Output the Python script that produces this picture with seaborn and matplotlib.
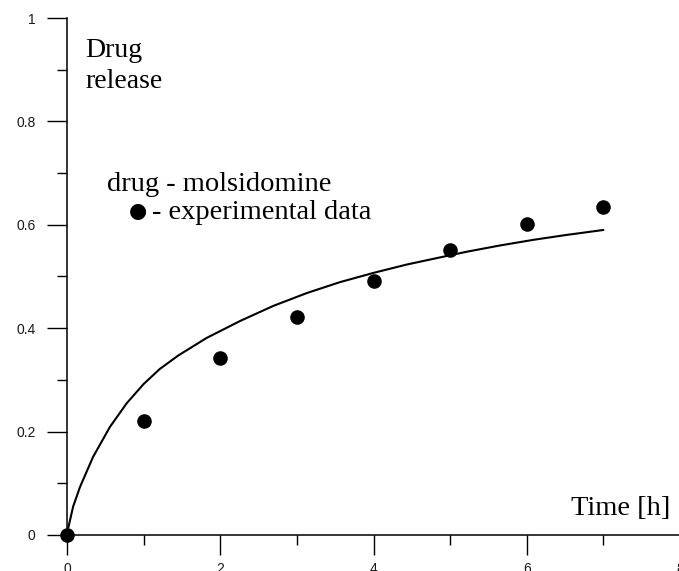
import matplotlib
matplotlib.use("Agg")
import matplotlib.pyplot as plt
import seaborn as sns
import pandas as pd
from matplotlib.ticker import MultipleLocator

# experimental data
time_h = [0, 1, 2, 3, 4, 5, 6, 7]
release = [0.0, 0.22, 0.342, 0.421, 0.492, 0.551, 0.601, 0.635]

# model curve
curve_t = [0, 0.02, 0.08, 0.17, 0.34, 0.56, 0.78, 1.0, 1.21, 1.45, 1.82, 2.26,
           2.69, 3.13, 3.56, 4.0, 4.43, 4.87, 5.22, 5.65, 6.09, 6.5, 7.0]
curve_y = [0.0, 0.016, 0.055, 0.093, 0.151, 0.209, 0.255, 0.292, 0.321, 0.347,
           0.381, 0.414, 0.443, 0.468, 0.489, 0.507, 0.523, 0.537, 0.548, 0.560,
           0.571, 0.580, 0.590]

xticks = [0, 2, 4, 6, 8]
yticks = [0, 0.2, 0.4, 0.6, 0.8, 1]
ytick_labels = ["0", "0.2", "0.4", "0.6", "0.8", "1"]

sns.set_style("ticks")
plt.rcParams["font.family"] = ["Liberation Sans", "DejaVu Sans"]
plt.rcParams["text.color"] = "black"

fig = plt.figure(figsize=(6.79, 5.71), dpi=100)
ax = fig.add_axes([67 / 679, 1 - 535 / 571, 613 / 679, 517 / 571])

df_pts = pd.DataFrame({"t": time_h, "r": release})
df_cur = pd.DataFrame({"t": curve_t, "r": curve_y})

sns.lineplot(data=df_cur, x="t", y="r", ax=ax, color="black", linewidth=1.5,
             sort=False, clip_on=False)
sns.scatterplot(data=df_pts, x="t", y="r", ax=ax, color="black", s=110,
                edgecolor="black", linewidth=0, clip_on=False, zorder=5)

ax.set_xlim(0, 8)
ax.set_ylim(0, 1)
ax.set_xticks(xticks)
ax.set_xticklabels([str(v) for v in xticks])
ax.set_yticks(yticks)
ax.set_yticklabels(ytick_labels)
ax.xaxis.set_minor_locator(MultipleLocator(1))
ax.yaxis.set_minor_locator(MultipleLocator(0.1))
ax.set_xlabel("")
ax.set_ylabel("")

for s in ["top", "right"]:
    ax.spines[s].set_visible(False)
for s in ["left", "bottom"]:
    ax.spines[s].set_linewidth(1.1)
    ax.spines[s].set_color("black")

ax.tick_params(axis="both", which="major", direction="out", length=14.5,
               width=1.0, labelsize=10, labelcolor="#1a1a1a", color="black")
ax.tick_params(axis="both", which="minor", direction="out", length=7.5,
               width=1.0, color="black")
ax.tick_params(axis="y", which="major", pad=8)
ax.tick_params(axis="x", which="major", pad=5)

serif = ["Liberation Serif", "DejaVu Serif"]
ax.text(0.235, 0.925, "Drug", fontsize=20, family=serif, ha="left",
        va="baseline", color="black")
ax.text(0.235, 0.865, "release", fontsize=20, family=serif, ha="left",
        va="baseline", color="black")
ax.text(0.52, 0.665, "drug - molsidomine", fontsize=20.5, family=serif,
        ha="left", va="baseline", color="black")
ax.text(0.93, 0.627, "\u25cf", fontsize=15, family=["DejaVu Sans"],
        ha="center", va="center", color="black")
ax.text(1.11, 0.611, "- experimental data", fontsize=20.5, family=serif,
        ha="left", va="baseline", color="black")
ax.text(7.87, 0.0387, "Time [h]", fontsize=20.5, family=serif, ha="right",
        va="baseline", color="black")

fig.savefig("out.png", dpi=100)
